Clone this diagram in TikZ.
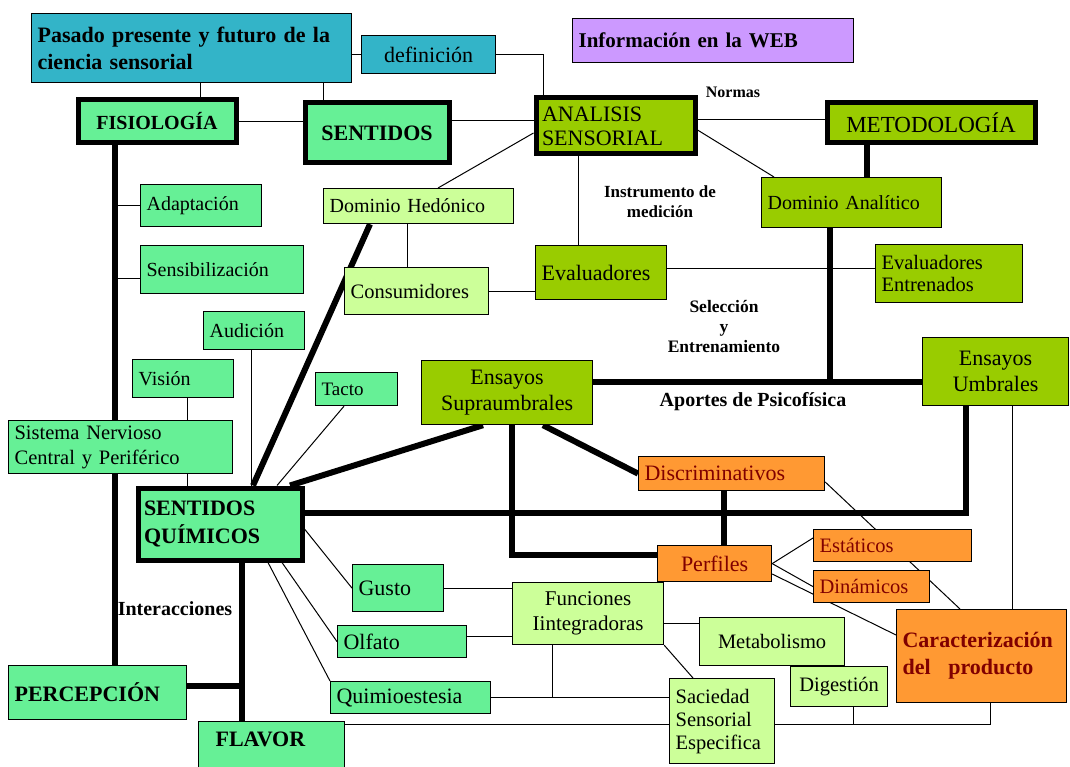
\documentclass[tikz,border=0pt]{standalone}
\usepackage{fontspec}
\setmainfont{Liberation Serif}
\usetikzlibrary{backgrounds}
\definecolor{celeste}{RGB}{51,180,200}
\definecolor{menta}{RGB}{102,240,150}
\definecolor{oliva}{RGB}{153,204,0}
\definecolor{lima}{RGB}{204,255,153}
\definecolor{naranja}{RGB}{255,153,51}
\definecolor{lila}{RGB}{204,153,255}
\definecolor{granate}{RGB}{128,0,0}

\begin{document}
\begin{tikzpicture}[x=1pt, y=-1pt, line cap=butt,
    caja/.style={draw, line width=1.2pt, anchor=north west, inner xsep=6pt, inner ysep=2pt, align=left,
      font=\fontsize{20.5}{24}\selectfont},
    gruesa/.style={caja, line width=5pt},
    grande/.style={font=\fontsize{22}{26}\selectfont},
    negrita/.style={font=\bfseries\fontsize{22}{27}\selectfont},
    etiqueta/.style={font=\bfseries\fontsize{17}{20}\selectfont, align=center},
    fino/.style={line width=1pt},
    grueso/.style={line width=6pt}]
  \useasboundingbox (0,0) rectangle (1070,767);

  % cabecera
  \node[caja, fill=celeste, negrita, text width=308pt, minimum height=69pt] (pasado) at (31,13) {Pasado presente y futuro de la\\ciencia sensorial};
  \node[caja, fill=celeste, grande, align=center, text width=122pt, minimum height=38pt] (definicion) at (361,35) {definición};
  \node[caja, fill=lila, font=\bfseries\fontsize{21}{25}\selectfont, text width=269pt, minimum height=44pt] (info) at (572,18) {Información en la WEB};
  \node[gruesa, fill=menta, font=\bfseries\fontsize{20}{24}\selectfont, align=center, text width=146pt, minimum height=43pt] (fisiologia) at (75.5,97.5) {FISIOLOGÍA};
  \node[gruesa, fill=menta, negrita, align=center, text width=132pt, minimum height=60pt] (sentidos) at (302.5,100.5) {SENTIDOS};
  \node[gruesa, fill=oliva, font=\fontsize{22}{24}\selectfont, text width=147pt, minimum height=56pt] (analisis) at (533.5,95.5) {ANALISIS\\SENSORIAL};
  \node[gruesa, fill=oliva, font=\fontsize{23}{27}\selectfont, align=center, text width=196pt, minimum height=40pt] (metodologia) at (824.5,100.5) {METODOLOGÍA};

  % dominios y evaluadores
  \node[caja, fill=lima, font=\fontsize{20}{24}\selectfont, text width=178pt, minimum height=35pt] (domhed) at (323,188) {Dominio Hedónico};
  \node[caja, fill=oliva, font=\fontsize{20}{24}\selectfont, text width=168pt, minimum height=50pt] (domana) at (761,177) {Dominio Analítico};
  \node[caja, fill=lima, text width=132pt, minimum height=47pt] (consum) at (344,267) {Consumidores};
  \node[caja, fill=oliva, grande, text width=119pt, minimum height=54pt] (evaluad) at (535,245) {Evaluadores};
  \node[caja, fill=oliva, font=\fontsize{20.5}{22}\selectfont, text width=135pt, minimum height=58pt] (evalent) at (875,244) {Evaluadores\\Entrenados};

  % fisiologia
  \node[caja, fill=menta, font=\fontsize{20}{24}\selectfont, text width=109pt, minimum height=42pt] (adapt) at (140,184) {Adaptación};
  \node[caja, fill=menta, font=\fontsize{20}{24}\selectfont, text width=151pt, minimum height=48pt] (sensib) at (140,245) {Sensibilización};
  \node[caja, fill=menta, font=\fontsize{20}{24}\selectfont, text width=89pt, minimum height=38pt] (audic) at (203,311) {Audición};
  \node[caja, fill=menta, font=\fontsize{20}{24}\selectfont, text width=89pt, minimum height=38pt] (vision) at (132,359) {Visión};
  \node[caja, fill=menta, font=\fontsize{20.5}{25}\selectfont, text width=212pt, minimum height=53pt] (sistema) at (8,420) {Sistema Nervioso\\Central y Periférico};
  \node[caja, fill=menta, font=\fontsize{19}{23}\selectfont, text width=70pt, minimum height=33pt] (tacto) at (315,372) {Tacto};
  \node[gruesa, fill=menta, font=\bfseries\fontsize{22}{28}\selectfont, text width=152pt, minimum height=72pt] (sq) at (135.5,485.5) {SENTIDOS\\QUÍMICOS};
  \node[caja, fill=menta, negrita, text width=166pt, minimum height=54pt] (percep) at (8,665) {PERCEPCIÓN};
  \node[caja, fill=menta, negrita, inner xsep=17pt, inner ysep=3pt, text width=112pt, text height=22pt, text depth=30pt] (flavor) at (198,721) {FLAVOR};

  % ensayos
  \node[caja, fill=oliva, grande, align=center, text width=159pt, minimum height=64pt] (ensupra) at (421,360) {Ensayos\\Supraumbrales};
  \node[caja, fill=oliva, grande, align=center, text width=134pt, minimum height=68pt] (enumb) at (922,337) {Ensayos\\Umbrales};
  \node[caja, fill=naranja, grande, text=granate, text width=174pt, minimum height=34pt] (discrim) at (638,456) {Discriminativos};
  \node[caja, fill=naranja, grande, text=granate, align=center, text width=102pt, minimum height=36pt] (perfiles) at (657,545) {Perfiles};
  \node[caja, fill=naranja, text=granate, text width=146pt, minimum height=32pt] (estat) at (813,529) {Estáticos};
  \node[caja, fill=naranja, text=granate, text width=104pt, minimum height=32pt] (dinam) at (813,570) {Dinámicos};
  \node[caja, fill=naranja, negrita, text=granate, text width=158pt, minimum height=93pt] (caract) at (896,609) {Caracterización\\del\hspace{0.8em}producto};

  % sentidos quimicos
  \node[caja, fill=menta, grande, text width=79pt, minimum height=47pt] (gusto) at (352,564) {Gusto};
  \node[caja, fill=menta, grande, text width=117pt, minimum height=32pt] (olfato) at (337,625) {Olfato};
  \node[caja, fill=menta, grande, text width=148pt, minimum height=32pt] (quimio) at (330,681) {Quimioestesia};
  \node[caja, fill=lima, font=\fontsize{21}{25}\selectfont, align=center, text width=139pt, minimum height=62pt] (funcion) at (512,582) {Funciones\\Iintegradoras};
  \node[caja, fill=lima, align=center, text width=133pt, minimum height=48pt] (metab) at (699,617) {Metabolismo};
  \node[caja, fill=lima, align=center, text width=85pt, minimum height=40pt] (digest) at (790,666) {Digestión};
  \node[caja, fill=lima, font=\fontsize{20.5}{23}\selectfont, text width=93pt, minimum height=85pt] (saciedad) at (669,678) {Saciedad\\Sensorial\\Especifica};

  % etiquetas
  \node[etiqueta, font=\bfseries\fontsize{16}{19}\selectfont] (normas) at (733,92) {Normas};
  \node[etiqueta] (instrumento) at (660,202) {Instrumento de\\medición};
  \node[etiqueta, font=\bfseries\fontsize{17.5}{20}\selectfont] (seleccion) at (724,327) {Selección\\y\\Entrenamiento};
  \node[etiqueta, font=\bfseries\fontsize{20}{24}\selectfont] (aportes) at (753,402) {Aportes de Psicofísica};
  \node[etiqueta, font=\bfseries\fontsize{20}{24}\selectfont] (interac) at (175,609) {Interacciones};

  \begin{scope}[on background layer]
    \fill[white] (0,0) rectangle (1070,767);
    % conectores finos
    \draw[fino] (pasado.south -| 200,0) -- (fisiologia.north -| 200,0);
    \draw[fino] (pasado.south -| 323,0) -- (sentidos.north -| 323,0);
    \draw[fino] (definicion.west) -- (definicion.west -| pasado.east);
    \draw[fino] (definicion.east) -| (analisis.north -| 543,0);
    \draw[fino] (fisiologia.east) -- (fisiologia.east -| sentidos.west);
    \draw[fino] (sentidos.east |- 0,121) -- (analisis.west |- 0,121);
    \draw[fino] (analisis.east |- 0,120) -- (metodologia.west |- 0,120);
    \draw[fino] (analisis.west |- 0,133) -- (domhed.north -| 438,0);
    \draw[fino] (analisis.east |- 0,130) -- (domana.north -| 774,0);
    \draw[fino] (analisis.south -| 578,0) -- (evaluad.north -| 578,0);
    \draw[fino] (domhed.south -| 407,0) -- (consum.north -| 407,0);
    \draw[fino] (consum.east) -- (consum.east -| evaluad.west);
    \draw[fino] (evaluad.east |- 0,268) -- (evalent.west |- 0,268);
    \draw[fino] (adapt.west) -- (adapt.west -| 115,0);
    \draw[fino] (sensib.west |- 0,278) -- (115,278);
    \draw[fino] (audic.south -| 251,0) -- (sq.north -| 251,0);
    \draw[fino] (vision.south -| 187,0) -- (sistema.north -| 187,0);
    \draw[fino] (sistema.south -| 187,0) -- (sq.north -| 187,0);
    \draw[fino] (tacto.south -| 344,0) -- (sq.north -| 277,0);
    \draw[fino] (sq.east |- 0,529) -- (gusto.west);
    \draw[fino] (sq.south -| 282,0) -- (olfato.west);
    \draw[fino] (sq.south -| 268,0) -- (quimio.north west);
    \draw[fino] (gusto.east) -- (gusto.east -| funcion.west);
    \draw[fino] (olfato.east |- 0,636) -- (funcion.west |- 0,636);
    \draw[fino] (quimio.east) -- (quimio.east -| saciedad.west);
    \draw[fino] (funcion.south -| 552,0) -- (quimio.east -| 552,0);
    \draw[fino] (funcion.east |- 0,623) -- (metab.west |- 0,623);
    \draw[fino] (funcion.south east) -- (saciedad.north -| 693,0);
    \draw[fino] (flavor.east |- 0,724) -- (saciedad.west |- 0,724);
    \draw[fino] (saciedad.east |- 0,724) -| (caract.south -| 990,0);
    \draw[fino] (digest.south -| 853,0) -- (853,724);
    \draw[fino] (discrim.east |- 0,482) -- (caract.north -| 960,0);
    \draw[fino] (perfiles.east) -- (estat.west |- 0,538);
    \draw[fino] (perfiles.east) -- (dinam.west);
    \draw[fino] (perfiles.east |- 0,574) -- (caract.west |- 0,635);
    \draw[fino] (enumb.south -| 1012,0) -- (caract.north -| 1012,0);
    % conectores gruesos
    \draw[grueso] (fisiologia.south -| 115,0) -- (percep.north -| 115,0);
    \draw[grueso] (sq.north -| 253,0) -- (domhed.south -| 370,0);
    \draw[grueso] (sq.north -| 290,0) -- (ensupra.south -| 483,0);
    \draw[grueso] (sq.east |- 0,513) -| (enumb.south -| 966,0);
    \draw[grueso] (ensupra.east |- 0,382) -- (enumb.west |- 0,382);
    \draw[grueso] (metodologia.south -| 867,0) -- (domana.north -| 867,0);
    \draw[grueso] (domana.south -| 830,0) -- (830,382);
    \draw[grueso] (ensupra.south -| 512,0) |- (perfiles.west |- 0,555);
    \draw[grueso] (ensupra.south -| 543,0) -- (discrim.west);
    \draw[grueso] (discrim.south -| 724,0) -- (perfiles.north -| 724,0);
    \draw[grueso] (sq.south -| 242,0) -- (flavor.north -| 242,0);
    \draw[grueso] (percep.east |- 0,686) -- (242,686);
  \end{scope}
\end{tikzpicture}
\end{document}
